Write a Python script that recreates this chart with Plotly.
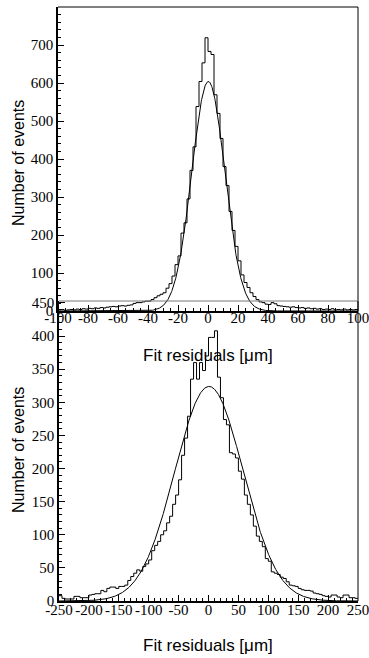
import numpy as np
import plotly.graph_objects as go

# ---------------- data ----------------
top_bin_low, top_bin_width = -100.0, 2.0
top_counts = [
    3, 4, 2, 3, 4, 3, 5, 4, 6, 5,
    7, 6, 8, 7, 9, 8, 10, 11, 12, 11,
    13, 14, 13, 15, 16, 20, 22, 22, 24, 26,
    26, 30, 35, 40, 44, 48, 60, 72, 92, 122,
    145, 205, 232, 295, 370, 432, 538, 604, 653, 719,
    683, 675, 569, 520, 454, 380, 330, 262, 212, 170,
    132, 95, 75, 62, 48, 38, 30, 24, 22, 18,
    17, 22, 19, 14, 13, 12, 11, 10, 11, 9,
    8, 9, 7, 8, 6, 7, 5, 6, 4, 5,
    4, 6, 3, 4, 3, 5, 3, 4, 3, 4,
]
top_fit = dict(amp=604.0, mean=0.2, sigma=11.0)

bot_bin_low, bot_bin_width = -250.0, 5.0
bot_counts = [
    8, 4, 3, 3, 3, 7, 7, 5, 5, 5,
    9, 10, 11, 11, 16, 14, 19, 21, 21, 19,
    22, 22, 24, 31, 37, 42, 47, 45, 52, 56,
    62, 76, 84, 90, 100, 106, 118, 128, 146, 160,
    183, 220, 246, 279, 335, 360, 335, 360, 348, 370,
    398, 398, 408, 338, 307, 274, 266, 224, 222, 216,
    196, 184, 160, 146, 130, 113, 98, 90, 82, 64,
    60, 44, 42, 40, 36, 34, 29, 24, 23, 22,
    19, 17, 16, 16, 15, 12, 11, 10, 8, 7,
    6, 9, 9, 6, 5, 9, 9, 5, 5, 4,
]
bot_fit = dict(amp=324.0, mean=0.8, sigma=57.0)

top_xticks = list(range(-100, 101, 20))
top_yticks = list(range(0, 701, 100))
bot_xticks = list(range(-250, 251, 50))
bot_yticks = list(range(0, 451, 50))

x_title = "Fit residuals [μm]"
y_title = "Number of events"

# ---------------- figure ----------------
W, H = 369, 658


def edges(low, width, n):
    return [low + i * width for i in range(n + 1)]


def gauss(p, x):
    return p["amp"] * np.exp(-0.5 * ((x - p["mean"]) / p["sigma"]) ** 2)


fig = go.Figure()

te = edges(top_bin_low, top_bin_width, len(top_counts))
fig.add_trace(go.Scatter(x=te, y=top_counts + [top_counts[-1]], mode="lines",
                         line=dict(shape="hv", color="black", width=1),
                         xaxis="x", yaxis="y", showlegend=False))
xt = np.linspace(-100, 100, 801)
fig.add_trace(go.Scatter(x=xt, y=gauss(top_fit, xt), mode="lines",
                         line=dict(color="black", width=1),
                         xaxis="x", yaxis="y", showlegend=False))

be = edges(bot_bin_low, bot_bin_width, len(bot_counts))
fig.add_trace(go.Scatter(x=be, y=bot_counts + [bot_counts[-1]], mode="lines",
                         line=dict(shape="hv", color="black", width=1),
                         xaxis="x2", yaxis="y2", showlegend=False))
xb = np.linspace(-250, 250, 1001)
fig.add_trace(go.Scatter(x=xb, y=gauss(bot_fit, xb), mode="lines",
                         line=dict(color="black", width=1),
                         xaxis="x2", yaxis="y2", showlegend=False))

tickfont = dict(family="Liberation Serif", size=15, color="black")
common = dict(showgrid=False, zeroline=False, showline=True, linecolor="black",
              linewidth=1.5, ticks="inside", tickcolor="black", ticklen=6,
              tickwidth=1, tickfont=tickfont, mirror=False, automargin=False,
              tickangle=0, tickmode="array", ticklabeloverflow="allow")


def xd(px):
    return px / W


def yd(py):
    return 1 - py / H


def minor(d):
    return dict(tickmode="linear", tick0=0, dtick=d, ticks="inside",
                ticklen=3, tickcolor="black", tickwidth=1)


def labels(vals):
    return [str(v) for v in vals]


fig.update_layout(
    template="none",
    width=W, height=H,
    margin=dict(l=0, r=0, t=0, b=0, pad=0),
    paper_bgcolor="white", plot_bgcolor="rgba(0,0,0,0)",
    xaxis=dict(domain=[xd(58), xd(358)], anchor="y", range=[-100, 100],
               tickvals=top_xticks, ticktext=labels(top_xticks),
               ticklabelstandoff=-8, minor=minor(5), **common),
    yaxis=dict(domain=[yd(311), yd(7)], anchor="x", range=[0, 800],
               tickvals=top_yticks, ticktext=labels(top_yticks),
               minor=minor(20), **common),
    xaxis2=dict(domain=[xd(59), xd(358)], anchor="y2", range=[-250, 250],
                tickvals=bot_xticks, ticktext=labels(bot_xticks),
                ticklabelstandoff=-6, minor=minor(10), **common),
    yaxis2=dict(domain=[yd(601), yd(301)], anchor="x2", range=[0, 453],
                tickvals=bot_yticks, ticktext=labels(bot_yticks),
                minor=minor(10), **common),
)

# frame lines (top / right)
shapes = [
    dict(type="line", xref="x domain", yref="y domain", x0=0, x1=1, y0=1, y1=1,
         line=dict(color="black", width=1)),
    dict(type="line", xref="x domain", yref="y domain", x0=1, x1=1, y0=0, y1=1,
         line=dict(color="black", width=1)),
    dict(type="line", xref="x2 domain", yref="y2 domain", x0=0, x1=1, y0=1, y1=1,
         line=dict(color="#777777", width=1)),
    dict(type="line", xref="x2 domain", yref="y2 domain", x0=1, x1=1, y0=0, y1=1,
         line=dict(color="black", width=1)),
]
fig.update_layout(shapes=shapes)

titlefont = dict(family="Liberation Sans", size=17, color="black")
yfont = dict(family="Liberation Sans", size=16, color="black")
anns = [
    dict(x=xd(208), y=yd(355), text=x_title, font=titlefont),
    dict(x=xd(208), y=yd(645), text=x_title, font=titlefont),
    dict(x=xd(19), y=yd(163), text=y_title, font=yfont, textangle=-90),
    dict(x=xd(19), y=yd(450), text=y_title, font=yfont, textangle=-90),
]
for a in anns:
    a.update(xref="paper", yref="paper", showarrow=False,
             xanchor="center", yanchor="middle")
fig.update_layout(annotations=anns)

fig.write_html("out.html")
